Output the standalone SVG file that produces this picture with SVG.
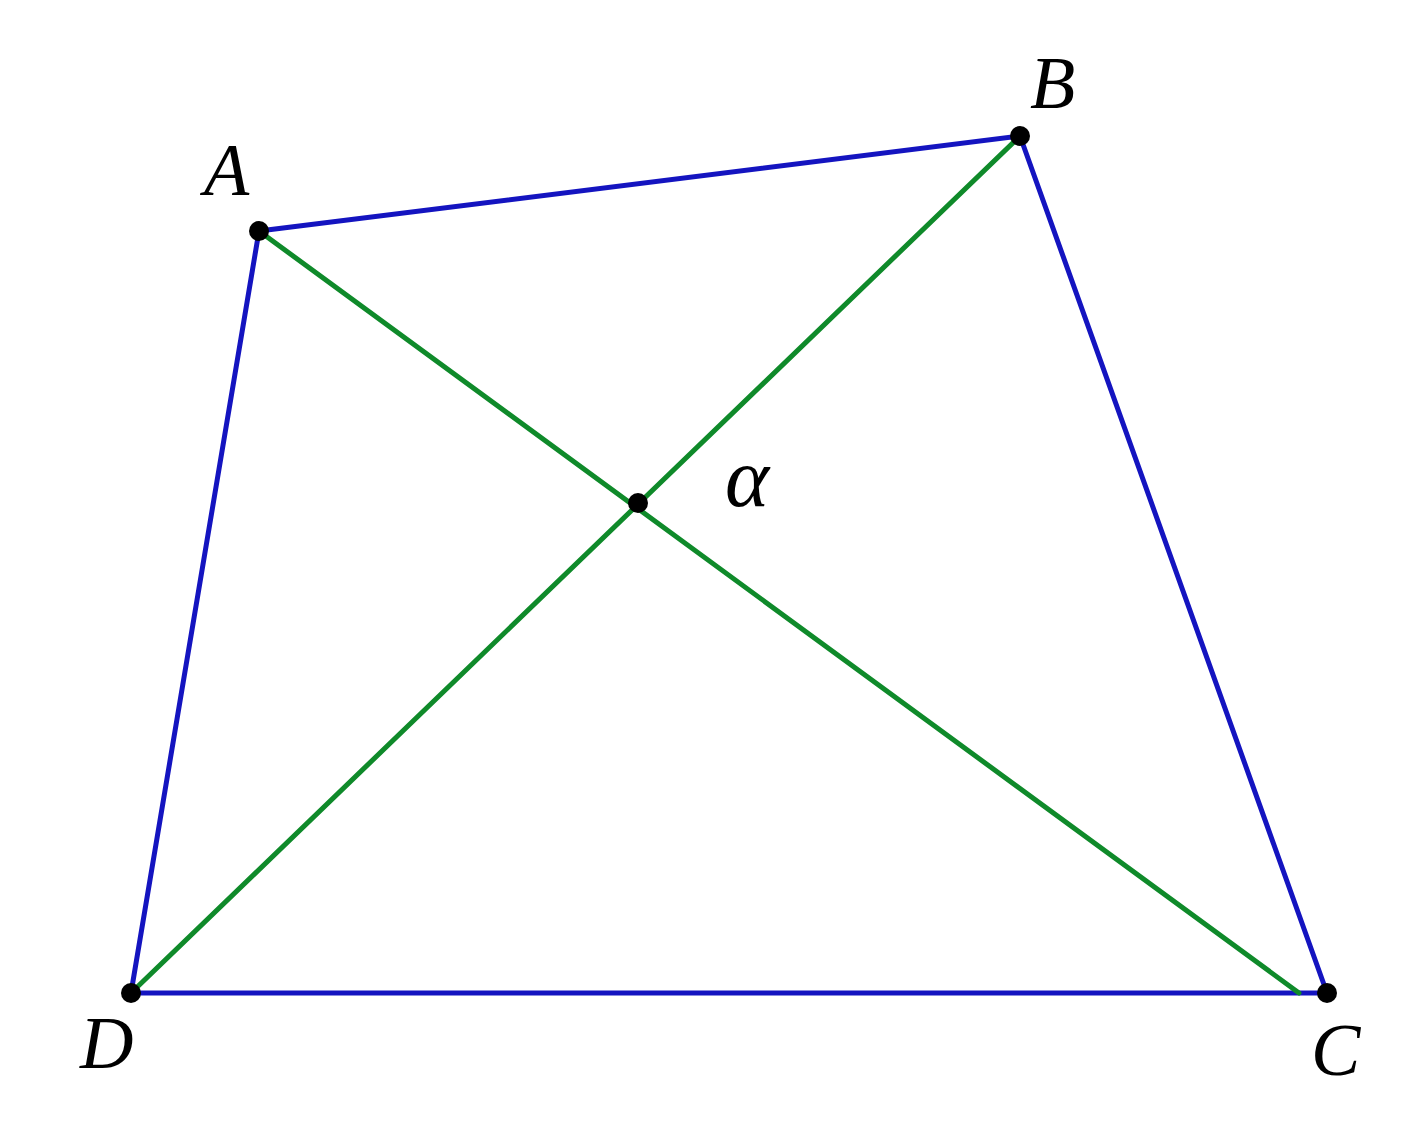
<svg xmlns="http://www.w3.org/2000/svg" width="1402" height="1122" viewBox="0 0 1402 1122">
<style>
.side{stroke:#1414c0;stroke-width:5;fill:none;stroke-linecap:round}
.diag{stroke:#0f8a2a;stroke-width:5;fill:none;stroke-linecap:round}
.pt{fill:#000}
.lbl{font-family:"Liberation Serif",serif;font-style:italic;font-size:74px;fill:#000}
</style>
<rect width="1402" height="1122" fill="#fff"/>
<g id="connectors">
<line class="side" x1="259" y1="231" x2="1020" y2="136"/>
<line class="side" x1="1020" y1="136" x2="1327" y2="993"/>
<line class="side" x1="131" y1="993" x2="1327" y2="993"/>
<line class="side" x1="259" y1="231" x2="131" y2="993"/>
<line class="diag" x1="259" y1="231" x2="1299" y2="993"/>
<line class="diag" x1="1020" y1="136" x2="131" y2="993"/>
</g>
<g id="A"><circle class="pt" cx="259" cy="231" r="10"/><text class="lbl" x="204" y="195">A</text></g>
<g id="B"><circle class="pt" cx="1020" cy="136" r="10"/><text class="lbl" x="1030" y="108">B</text></g>
<g id="C"><circle class="pt" cx="1327" cy="993" r="10"/><text class="lbl" x="1311" y="1075">C</text></g>
<g id="D"><circle class="pt" cx="131" cy="993" r="10"/><text class="lbl" x="80" y="1068">D</text></g>
<g id="O"><circle class="pt" cx="638" cy="503" r="10"/><text class="lbl" x="725" y="506" style="font-size:84px">α</text></g>
</svg>
